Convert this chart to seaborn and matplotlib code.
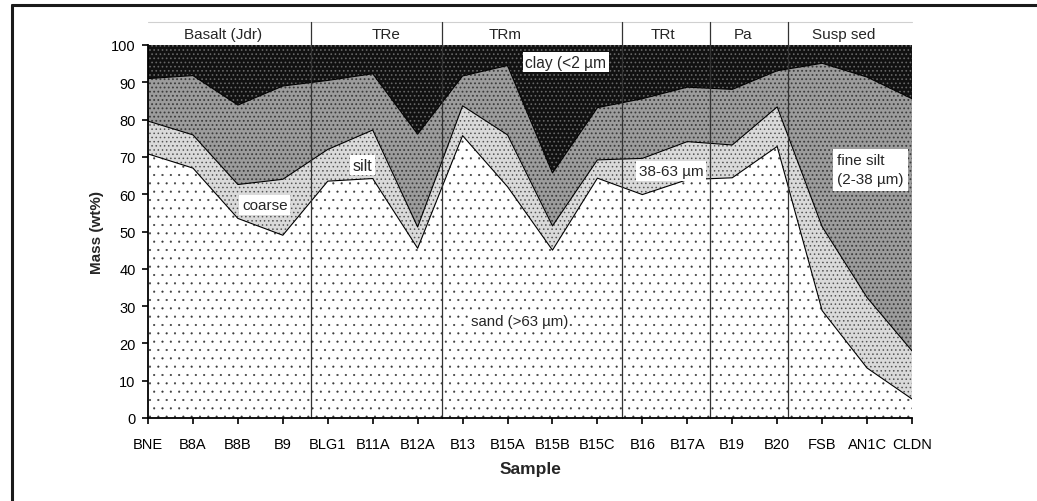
import matplotlib
matplotlib.use("Agg")
import matplotlib.pyplot as plt
import seaborn as sns
import numpy as np
import pandas as pd
from matplotlib.lines import Line2D

samples = ["BNE", "B8A", "B8B", "B9", "BLG1", "B11A", "B12A", "B13", "B15A",
           "B15B", "B15C", "B16", "B17A", "B19", "B20", "FSB", "AN1C", "CLDN"]
# cumulative boundaries (wt%)
sand_top = [70.8, 67.0, 53.5, 49.0, 63.5, 64.2, 45.5, 75.7, 62.0,
            45.0, 64.3, 59.9, 63.9, 64.4, 72.8, 28.8, 13.4, 5.1]
coarse_top = [79.6, 75.9, 62.6, 64.0, 72.0, 77.2, 51.2, 83.7, 75.9,
              51.5, 69.2, 69.6, 74.1, 73.2, 83.4, 51.3, 32.3, 18.0]
fine_top = [91.0, 91.8, 83.9, 89.0, 90.5, 92.3, 76.1, 91.7, 94.5,
            65.7, 83.2, 85.6, 88.7, 88.1, 93.1, 95.1, 91.4, 85.6]
clay_top = [100.0] * 18

groups = ["Basalt (Jdr)", "TRe", "TRm", "TRt", "Pa", "Susp sed"]
group_label_x = [1.67, 5.3, 7.95, 11.46, 13.24, 15.47]
group_bounds = [3.62, 6.54, 10.54, 12.5, 14.23]

df = pd.DataFrame({"x": np.arange(len(samples)), "sand": sand_top,
                   "coarse": coarse_top, "fine": fine_top, "clay": clay_top})

sns.set_theme(style="ticks")
plt.rcParams["font.family"] = ["Liberation Sans", "DejaVu Sans"]

fig = plt.figure(figsize=(10.37, 5.02), dpi=100)
ax = fig.add_axes([148/1037, 1-419/502, (912-148)/1037, (419-46)/502])

x = df["x"].values
zero = np.zeros(len(x))
layers = [
    (zero, df["sand"].values, "white", "#3a3a3a", "..", 0.3),
    (df["sand"].values, df["coarse"].values, "#dadada", "#555555", "....", 0.6),
    (df["coarse"].values, df["fine"].values, "#9c9c9c", "#3c3c3c", "....", 0.8),
    (df["fine"].values, df["clay"].values, "#111111", "#666666", "....", 0.7),
]
for lo, hi, fc, hc, h, hlw in layers:
    plt.rcParams["hatch.linewidth"] = hlw
    ax.fill_between(x, lo, hi, facecolor=fc, edgecolor=hc, hatch=h, linewidth=0, zorder=1)

for col in ["sand", "coarse", "fine"]:
    sns.lineplot(data=df, x="x", y=col, ax=ax, color="black", linewidth=0.8,
                 zorder=3, legend=False)

ax.set_xlim(0, len(samples) - 1)
ax.set_ylim(0, 100)
ax.set_yticks(np.arange(0, 101, 10))
ax.set_xticks(x)
ax.set_xticklabels(samples)
ax.tick_params(axis="both", labelsize=10.5, length=4, width=1.2, colors="black", pad=5)
ax.tick_params(axis="x", pad=10)
for s in ["top", "right"]:
    ax.spines[s].set_visible(False)
for s in ["left", "bottom"]:
    ax.spines[s].set_linewidth(1.3)
    ax.spines[s].set_color("black")
    ax.spines[s].set_zorder(5)
ax.set_xlabel("Sample", fontsize=12.5, fontweight="bold", labelpad=7)
ax.set_ylabel("Mass (wt%)", fontsize=11, fontweight="bold", labelpad=5)

# header strip and group separators
top_hdr = 106.2
ax.plot([0, 17], [top_hdr, top_hdr], color="#d0d0d0", lw=0.8, clip_on=False, zorder=4)
for b in group_bounds:
    ax.plot([b, b], [0, top_hdr], color="#333333", lw=0.9, clip_on=False, zorder=4)
for g, gx in zip(groups, group_label_x):
    ax.text(gx, 103.0, g, ha="center", va="center", fontsize=11, clip_on=False)

box = dict(facecolor="white", edgecolor="none", pad=2)
ax.text(9.3, 95.4, "clay (<2 \u00b5m", ha="center", va="center", fontsize=11.2, bbox=box, zorder=6)
ax.text(4.78, 67.8, "silt", ha="center", va="center", fontsize=11.5, bbox=box, zorder=6)
ax.text(2.6, 57.1, "coarse", ha="center", va="center", fontsize=11, bbox=box, zorder=6)
ax.text(11.64, 66.2, "38-63 \u00b5m", ha="center", va="center", fontsize=11, bbox=box, zorder=6)
ax.text(15.33, 66.5, "fine silt\n(2-38 \u00b5m)", ha="left", va="center", fontsize=11,
        linespacing=1.45, bbox=dict(facecolor="white", edgecolor="none", pad=3), zorder=6)
ax.text(8.26, 26.1, "sand (>63 \u00b5m)", ha="center", va="center", fontsize=10.8,
        bbox=dict(facecolor="white", edgecolor="none", pad=1), zorder=6)

# outer frame lines
fig.add_artist(Line2D([12/1037, 1], [1-6/502, 1-6/502], color="#1a1a1a", lw=2.2))
fig.add_artist(Line2D([12/1037, 12/1037], [0, 1-6/502], color="#1a1a1a", lw=2.2))

fig.savefig("out.png", dpi=100)
